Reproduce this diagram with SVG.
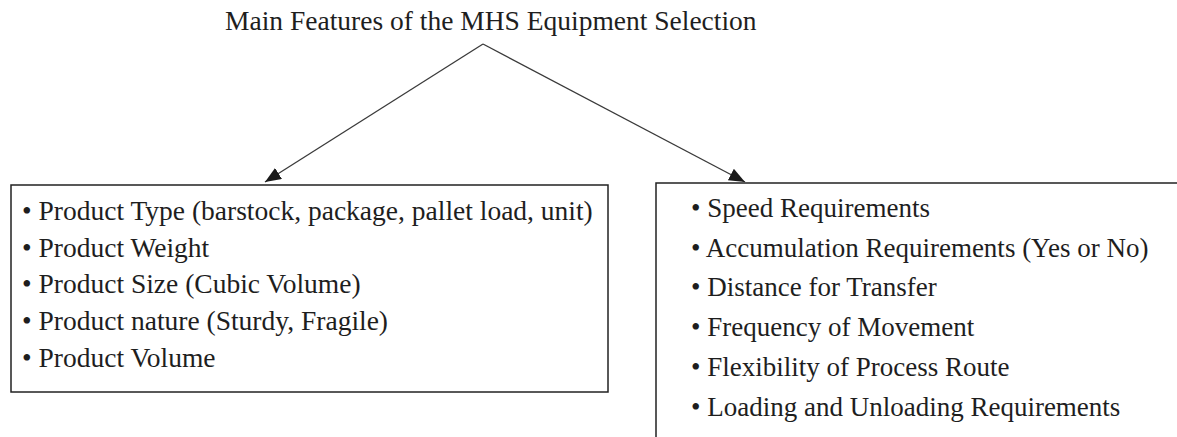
<svg xmlns="http://www.w3.org/2000/svg" width="1177" height="437" viewBox="0 0 1177 437">
  <style>
    .t { font-family: "Liberation Serif", "Times New Roman", serif; fill: #1e1e1e; }
    .title { font-size: 27.5px; }
    .l { font-size: 27.5px; }
    .r { font-size: 27px; }
    .box { fill: #ffffff; stroke: #222222; stroke-width: 1.5; }
    .conn { stroke: #3a3a3a; stroke-width: 1.3; fill: none; }
  </style>
  <defs>
    <marker id="ah" markerUnits="userSpaceOnUse" markerWidth="18" markerHeight="14" refX="16" refY="6.5" orient="auto">
      <path d="M0,0 L16,6.5 L0,13 z" fill="#1a1a1a"/>
    </marker>
  </defs>
  <rect width="1177" height="437" fill="#ffffff"/>

  <g id="title">
    <text class="t title" x="225" y="30">Main Features of the MHS Equipment Selection</text>
  </g>

  <g id="left-box">
    <rect class="box" x="11" y="185" width="597" height="207"/>
    <text class="t l" x="22" y="220">• Product Type (barstock, package, pallet load, unit)</text>
    <text class="t l" x="22" y="257">• Product Weight</text>
    <text class="t l" x="22" y="293">• Product Size (Cubic Volume)</text>
    <text class="t l" x="22" y="330">• Product nature (Sturdy, Fragile)</text>
    <text class="t l" x="22" y="367">• Product Volume</text>
  </g>

  <g id="right-box">
    <rect class="box" x="656" y="183" width="560" height="280"/>
    <text class="t r" x="691" y="217">• Speed Requirements</text>
    <text class="t r" x="691" y="257">• Accumulation Requirements (Yes or No)</text>
    <text class="t r" x="691" y="296">• Distance for Transfer</text>
    <text class="t r" x="691" y="336">• Frequency of Movement</text>
    <text class="t r" x="691" y="376">• Flexibility of Process Route</text>
    <text class="t r" x="691" y="416">• Loading and Unloading Requirements</text>
  </g>

  <g id="connectors">
    <line class="conn" x1="483" y1="44" x2="265" y2="182" marker-end="url(#ah)"/>
    <line class="conn" x1="483" y1="44" x2="745" y2="182" marker-end="url(#ah)"/>
  </g>
</svg>
